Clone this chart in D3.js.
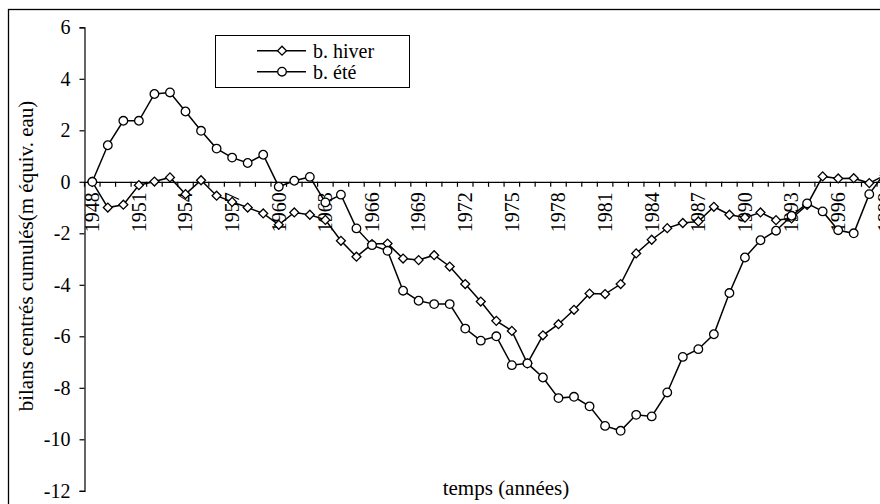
<!DOCTYPE html>
<html>
<head>
<meta charset="utf-8">
<script src="https://cdn.jsdelivr.net/npm/d3@7"></script>
<style>
  html, body { margin: 0; padding: 0; background: #fff; }
  svg { display: block; }
</style>
</head>
<body>
<svg width="880" height="504"></svg>
<script>
// valeurs (bilans cumulés, m équiv. eau)
const annees = d3.range(1948, 2000);
const hiver = [0, -1.0, -0.89, -0.13, 0.01, 0.17, -0.48, 0.06, -0.54, -0.78,
  -1.0, -1.23, -1.67, -1.19, -1.28, -1.48, -2.29, -2.91, -2.42, -2.4,
  -2.98, -3.04, -2.85, -3.29, -3.97, -4.65, -5.4, -5.79, -7.05, -5.96,
  -5.53, -4.97, -4.34, -4.36, -3.97, -2.78, -2.25, -1.8, -1.6, -1.54,
  -0.97, -1.28, -1.39, -1.19, -1.49, -1.42, -0.9, 0.21, 0.13, 0.14,
  -0.05, 0.25];
const ete = [0, 1.42, 2.37, 2.37, 3.41, 3.47, 2.73, 1.98, 1.29, 0.94,
  0.73, 1.05, -0.19, 0.04, 0.19, -0.8, -0.5, -1.81, -2.46, -2.68,
  -4.23, -4.62, -4.75, -4.75, -5.7, -6.17, -6.0, -7.12, -7.05, -7.6,
  -8.4, -8.35, -8.72, -9.48, -9.67, -9.05, -9.11, -8.18, -6.8, -6.5,
  -5.92, -4.32, -2.94, -2.27, -1.9, -1.32, -0.84, -1.15, -1.88, -2.0,
  -0.48, 0.35];
const yTicks = [6, 4, 2, 0, -2, -4, -6, -8, -10, -12];
const xLabels = annees.filter(a => (a - 1948) % 3 === 0);

const police = "Liberation Serif, DejaVu Serif, serif";
const svg = d3.select("svg").style("font-family", police);

// cadre du graphique (coupé à droite et en bas)
svg.append("rect")
  .attr("x", 8.5).attr("y", 9.5)
  .attr("width", 900).attr("height", 520)
  .attr("fill", "none").attr("stroke", "#000").attr("stroke-width", 1.3);

const x = d3.scaleBand().domain(annees).range([84.5, 84.5 + annees.length * 15.54]);
const y = d3.scaleLinear().domain([-12, 6]).range([490.8, 27.3]);
const cx = a => x(a) + x.bandwidth() / 2;

// axe vertical
const gy = svg.append("g").attr("transform", "translate(84.5,0)")
  .call(d3.axisLeft(y).tickValues(yTicks).tickSize(5).tickPadding(9).tickFormat(d3.format("d")));
gy.attr("font-family", null).attr("font-size", null);
gy.select(".domain").attr("stroke", "#000").attr("stroke-width", 1.2);
gy.selectAll(".tick line").attr("stroke", "#000").attr("stroke-width", 1.2);
gy.selectAll(".tick text").style("font-size", "20px").attr("fill", "#000")
  .text(d => d < 0 ? "-" + Math.abs(d) : d);

// axe horizontal sur le zéro
const gx = svg.append("g").attr("transform", `translate(0,${y(0)})`)
  .call(d3.axisBottom(x).tickSize(0).tickFormat(""));
gx.select(".domain").attr("stroke", "#000").attr("stroke-width", 1.2);
gx.selectAll(".tick").remove();
const bords = annees.map(a => x(a)).concat([x(1999) + x.bandwidth()]);
svg.append("g").selectAll("line")
  .data(bords)
  .join("line")
  .attr("x1", d => d).attr("x2", d => d)
  .attr("y1", y(0)).attr("y2", y(0) + 5)
  .attr("stroke", "#000").attr("stroke-width", 1.2);

svg.append("g").selectAll("text")
  .data(xLabels)
  .join("text")
  .attr("transform", d => `translate(${cx(d)},${y(0) + 10.5}) rotate(-90)`)
  .attr("text-anchor", "end")
  .attr("dy", "0.34em")
  .style("font-size", "20px")
  .text(d => d);

// titres des axes
svg.append("text")
  .attr("x", 506).attr("y", 495)
  .attr("text-anchor", "middle").style("font-size", "21px")
  .text("temps (années)");
svg.append("text")
  .attr("transform", "translate(33,256) rotate(-90)")
  .attr("text-anchor", "middle").style("font-size", "21px")
  .text("bilans centrés cumulés(m équiv. eau)");

// séries
const line = d3.line().x((d, i) => cx(annees[i])).y(d => y(d));
const series = [
  { nom: "b. hiver", valeurs: hiver, forme: "losange" },
  { nom: "b. été", valeurs: ete, forme: "cercle" }
];
const carre = d3.symbol().type(d3.symbolSquare).size(40);
const cercle = d3.symbol().type(d3.symbolCircle).size(58);

function marqueur(sel, s, tx, ty) {
  if (s.forme === "cercle") {
    sel.attr("d", cercle()).attr("transform", `translate(${tx},${ty})`);
  } else {
    sel.attr("d", carre()).attr("transform", `translate(${tx},${ty}) rotate(45)`);
  }
}

series.forEach(s => {
  svg.append("path")
    .datum(s.valeurs)
    .attr("d", line)
    .attr("fill", "none").attr("stroke", "#000").attr("stroke-width", 1.5);
  svg.append("g").selectAll("path")
    .data(s.valeurs)
    .join("path")
    .each(function (d, i) { marqueur(d3.select(this), s, cx(annees[i]), y(d)); })
    .attr("fill", "#fff").attr("stroke", "#000").attr("stroke-width", 1.3);
});

// légende
const leg = svg.append("g");
leg.append("rect")
  .attr("x", 215.5).attr("y", 35.5).attr("width", 194).attr("height", 52)
  .attr("fill", "#fff").attr("stroke", "#000").attr("stroke-width", 1);
series.forEach((s, i) => {
  const ly = 50.7 + i * 21;
  leg.append("line")
    .attr("x1", 257).attr("x2", 306).attr("y1", ly).attr("y2", ly)
    .attr("stroke", "#000").attr("stroke-width", 1.5);
  leg.append("path")
    .each(function () { marqueur(d3.select(this), s, 282, ly); })
    .attr("fill", "#fff").attr("stroke", "#000").attr("stroke-width", 1.3);
  leg.append("text")
    .attr("x", 313).attr("y", ly + 7)
    .style("font-size", "20px")
    .text(s.nom);
});
</script>
</body>
</html>
